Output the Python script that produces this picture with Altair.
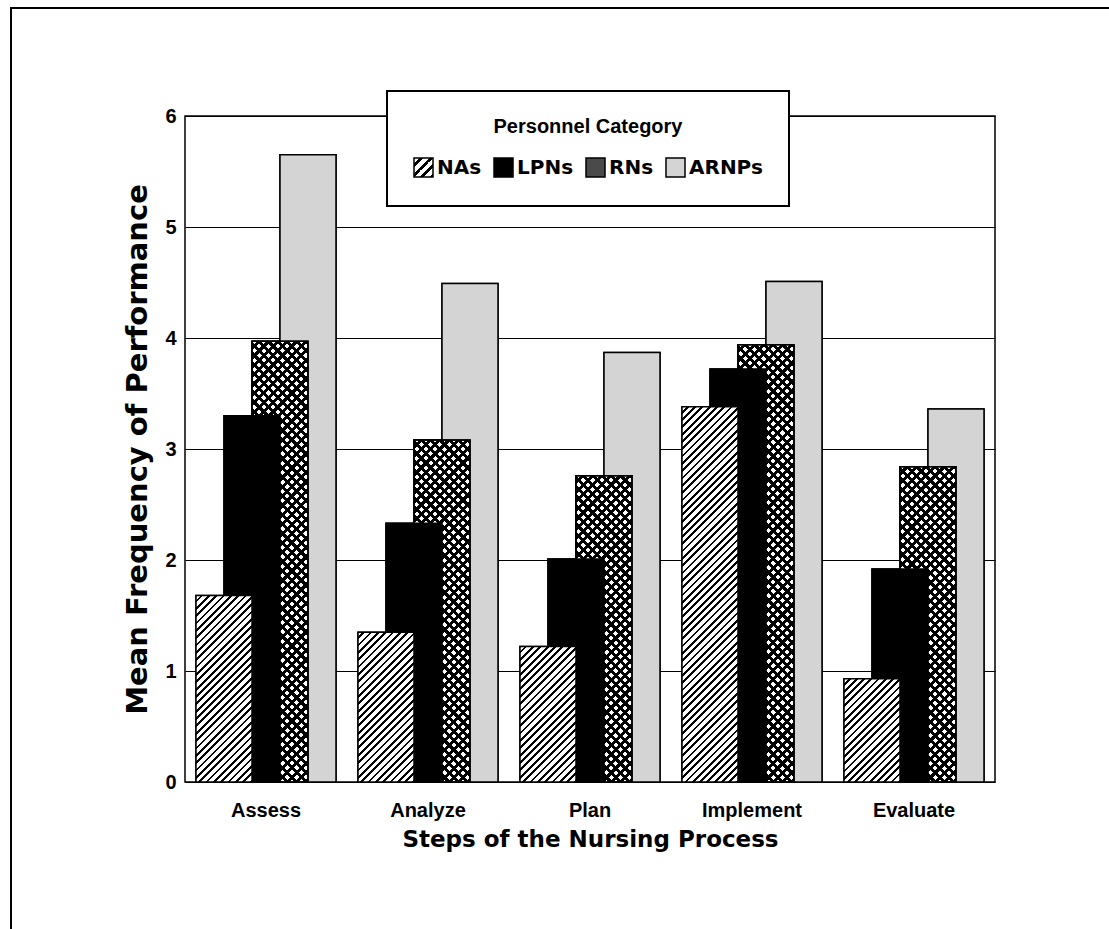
import math
import altair as alt

# ---------------- data ----------------
steps = ["Assess", "Analyze", "Plan", "Implement", "Evaluate"]
series = ["NAs", "LPNs", "RNs", "ARNPs"]
nas = [1.68, 1.35, 1.22, 3.38, 0.93]
lpns = [3.30, 2.33, 2.01, 3.72, 1.92]
rns = [3.97, 3.08, 2.76, 3.94, 2.84]
arnps = [5.65, 4.49, 3.87, 4.51, 3.36]
values_by_series = {"NAs": nas, "LPNs": lpns, "RNs": rns, "ARNPs": arnps}

# ---------------- layout ----------------
PLOT_W, PLOT_H = 810, 666
Y_MAX = 6
PAD_IN, PAD_OUT = 0.3086, 0.1543
STEP = PLOT_W / (len(steps) - PAD_IN + 2 * PAD_OUT)
SUB = STEP * (1 - PAD_IN) / len(series)
BAR_W = 2 * SUB  # bars twice as wide as their offset band -> half overlap


def stripes(w, h, period, frac, ink, paper, direction="/"):
    """Diagonal 45-degree stripes as an SVG linear gradient in bbox units."""
    n = max(1, round((w + h) / (math.sqrt(2) * period)))
    stops = []
    for i in range(n):
        a = i / n
        b = (i + 1 - frac) / n
        c = (i + 1) / n
        stops += [
            {"offset": round(a, 5), "color": paper},
            {"offset": round(b, 5), "color": paper},
            {"offset": round(b, 5), "color": ink},
            {"offset": round(c, 5), "color": ink},
        ]
    k = (w + h) / (w * w + h * h)
    if direction == "/":
        x1, y1, x2, y2 = 0, 0, k * w, k * h
    else:
        x1, y1, x2, y2 = 0, 1, k * w, 1 - k * h
    return {"gradient": "linear", "x1": x1, "y1": y1, "x2": x2, "y2": y2,
            "stops": stops}


def px_h(v):
    return v / Y_MAX * PLOT_H


# base rows (for the legend / colour scale)
base_rows = []
for ser in series:
    for s, v in zip(steps, values_by_series[ser]):
        base_rows.append({"step": s, "series": ser, "value": v})

# patterned rows, drawn back to front: ARNPs, RNs, RNs overlay, LPNs, NAs
pattern_rows = []
for s, v in zip(steps, arnps):
    pattern_rows.append({"step": s, "series": "ARNPs", "value": v, "grad": "#d4d4d4"})
for s, v in zip(steps, rns):
    pattern_rows.append({"step": s, "series": "RNs", "value": v,
                         "grad": stripes(BAR_W, px_h(v), 6.6, 0.45, "black", "white", "/")})
for s, v in zip(steps, rns):
    pattern_rows.append({"step": s, "series": "RNs", "value": v,
                         "grad": stripes(BAR_W, px_h(v), 6.6, 0.45, "black", "rgba(255,255,255,0)", "\\")})
for s, v in zip(steps, lpns):
    pattern_rows.append({"step": s, "series": "LPNs", "value": v, "grad": "black"})
for s, v in zip(steps, nas):
    pattern_rows.append({"step": s, "series": "NAs", "value": v,
                         "grad": stripes(BAR_W, px_h(v), 5.2, 0.38, "black", "white", "/")})

legend_hatch = ("{gradient:'linear',x1:0,y1:0,x2:1,y2:1,stops:["
                + ",".join(
                    "{offset:%.4f,color:'%s'}" % (o, c)
                    for i in range(4)
                    for (o, c) in [(i / 4, "white"), ((i + 0.62) / 4, "white"),
                                   ((i + 0.62) / 4, "black"), ((i + 1) / 4, "black")])
                + "]}")

# ---------------- encodings ----------------
x_enc = alt.X(
    "step:N", sort=steps,
    scale=alt.Scale(domain=steps, paddingInner=PAD_IN, paddingOuter=PAD_OUT),
    axis=alt.Axis(title="Steps of the Nursing Process", labelAngle=0,
                  labelFont="Liberation Sans", labelFontSize=20, labelFontWeight="bold",
                  labelColor="black", labelPadding=18, ticks=False, domain=False,
                  grid=False, titleFont="DejaVu Sans", titleFontSize=23,
                  titleFontWeight="bold", titleColor="black", titlePadding=8),
)
xoff_enc = alt.XOffset("series:N", sort=series,
                       scale=alt.Scale(domain=series, paddingInner=0, paddingOuter=0))
y_enc = alt.Y(
    "value:Q", stack=None,
    scale=alt.Scale(domain=[0, Y_MAX], nice=False),
    axis=alt.Axis(title="Mean Frequency of Performance", values=[0, 1, 2, 3, 4, 5, 6],
                  labelFont="Liberation Sans", labelFontSize=20, labelFontWeight="bold",
                  labelColor="black", labelPadding=9, ticks=False, domain=False,
                  grid=True, gridColor="black", gridWidth=1, gridOpacity=1,
                  titleFont="DejaVu Sans", titleFontSize=29, titleFontWeight="bold",
                  titleColor="black", titlePadding=12),
)

legend_layer = alt.Chart(alt.Data(values=base_rows)).mark_bar(
    size=BAR_W, stroke="black", strokeWidth=1.5
).encode(
    x=x_enc, xOffset=xoff_enc, y=y_enc,
    color=alt.Color(
        "series:N", sort=series,
        scale=alt.Scale(domain=series,
                        range=[{"expr": legend_hatch}, "black", "#4a4a4a", "#d4d4d4"]),
        legend=alt.Legend(
            title="Personnel Category", orient="none", legendX=202, legendY=-25,
            direction="horizontal", titleAnchor="middle", titleLimit=400,
            titleFont="Liberation Sans", titleFontSize=20, titleFontWeight="bold",
            titleColor="black", titlePadding=20,
            labelFont="DejaVu Sans", labelFontSize=20, labelFontWeight="bold",
            labelColor="black", labelOffset=3, labelLimit=200,
            symbolType="square", symbolSize=361, symbolStrokeColor="black",
            symbolStrokeWidth=1.5, columnPadding=9, padding=26,
            fillColor="white", strokeColor="black",
        ),
    ),
)

pattern_layer = alt.Chart(alt.Data(values=pattern_rows)).mark_bar(
    size=BAR_W, stroke="black", strokeWidth=1.5
).encode(
    x=x_enc, xOffset=xoff_enc, y=y_enc,
    fill=alt.Fill("grad:N", scale=None, legend=None),
)

frame = alt.Chart().mark_rect(filled=False, stroke="black", strokeWidth=2).encode(
    x=alt.value(-174), x2=alt.value(PLOT_W + 300),
    y=alt.value(-108), y2=alt.value(PLOT_H + 300),
)

chart = alt.layer(frame, legend_layer, pattern_layer).properties(
    width=PLOT_W, height=PLOT_H,
    autosize=alt.AutoSizeParams(type="none"),
    padding={"left": 185, "top": 116, "right": 114, "bottom": 147},
    background="white",
).configure_view(
    stroke="black", strokeWidth=1.5
).configure_legend(
    strokeWidth=2
)

chart.save("out.html", embed_options={"renderer": "svg", "actions": False})
